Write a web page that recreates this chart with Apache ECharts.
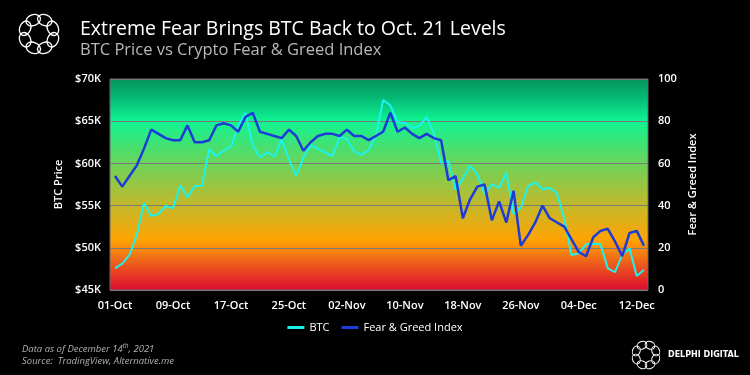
<!DOCTYPE html>
<html>
<head>
<meta charset="utf-8">
<script src="https://cdn.jsdelivr.net/npm/echarts@6/dist/echarts.min.js"></script>
<style>
html,body{margin:0;padding:0;background:#000;}
#chart{width:750px;height:375px;}
</style>
</head>
<body>
<div id="chart"></div>
<script>
var dates = ['01-Oct','02-Oct','03-Oct','04-Oct','05-Oct','06-Oct','07-Oct','08-Oct','09-Oct','10-Oct',
  '11-Oct','12-Oct','13-Oct','14-Oct','15-Oct','16-Oct','17-Oct','18-Oct','19-Oct','20-Oct',
  '21-Oct','22-Oct','23-Oct','24-Oct','25-Oct','26-Oct','27-Oct','28-Oct','29-Oct','30-Oct','31-Oct',
  '01-Nov','02-Nov','03-Nov','04-Nov','05-Nov','06-Nov','07-Nov','08-Nov','09-Nov','10-Nov',
  '11-Nov','12-Nov','13-Nov','14-Nov','15-Nov','16-Nov','17-Nov','18-Nov','19-Nov','20-Nov',
  '21-Nov','22-Nov','23-Nov','24-Nov','25-Nov','26-Nov','27-Nov','28-Nov','29-Nov','30-Nov',
  '01-Dec','02-Dec','03-Dec','04-Dec','05-Dec','06-Dec','07-Dec','08-Dec','09-Dec','10-Dec',
  '11-Dec','12-Dec','13-Dec'];

var btc = [47570,48120,49150,51480,55310,53770,54000,54950,54680,57400,
  55980,57320,57360,61670,60840,61510,61980,64430,66010,62140,
  60720,61310,60840,62850,60480,58510,60720,62140,61740,61270,60880,
  63130,62890,61430,61000,61590,63300,67510,66880,64900,64790,
  64190,64430,65500,63640,60090,60280,56850,58200,59730,58700,
  56400,57520,57120,58900,53970,54750,57320,57760,56930,57120,
  56450,53380,49150,49350,50410,50490,50410,47570,47130,49150,
  49940,46660,47410];

var fearGreed = [54,49,54,59,67,76,74,72,71,71,
  78,70,70,71,78,79,78,75,82,84,
  75,74,73,72,76,73,66,70,73,74,74,
  73,76,73,73,71,73,75,84,75,77,
  74,72,74,72,71,52,54,34,43,49,
  50,33,42,32,47,21,26,32,40,34,
  32,30,24,18,16,25,28,29,23,16,
  27,28,21];

var priceTicks = {min:45000, max:70000, interval:5000};
var indexTicks = {min:0, max:100, interval:20};

var chart = echarts.init(document.getElementById('chart'), null, {renderer:'canvas'});
var FONT = '"Open Sans", sans-serif';

function logo(cx, cy, R, rx, ry, lw) {
  var els = [];
  for (var k = 0; k < 8; k++) {
    var a = k * Math.PI / 4 + Math.PI / 8;
    els.push({type:'ellipse', x:cx + R*Math.cos(a), y:cy + R*Math.sin(a), rotation:-a + Math.PI/2,
      shape:{cx:0, cy:0, rx:rx, ry:ry},
      style:{fill:'none', stroke:'#fff', lineWidth:lw}, silent:true});
  }
  return els;
}

var graphics = [].concat(logo(39, 34, 15, 7.5, 5.5, 1.3), logo(646, 355, 10.5, 5, 3.8, 1));
graphics.push({type:'text', left:668, top:351, style:{text:'DELPHI DIGITAL', fill:'#fff',
  font:'bold 8px "DejaVu Sans", sans-serif'}});
graphics.push({type:'text', left:22, top:343, style:{
  text:'{a|Data as of December 14}{s|th}{a|, 2021}\n{a|Source:  TradingView, Alternative.me}',
  rich:{a:{fill:'#b0b0b0', font:'italic 9.5px "Open Sans", sans-serif', lineHeight:12},
        s:{fill:'#b0b0b0', font:'italic 6.5px "Open Sans", sans-serif', verticalAlign:'top', lineHeight:12}}
}});

var option = {
  backgroundColor:'#000',
  animation:false,
  title:[
    {text:'Extreme Fear Brings BTC Back to Oct. 21 Levels', left:75, top:14,
     textStyle:{color:'#fff', fontSize:19.5, fontWeight:'normal', fontFamily:FONT}},
    {text:'BTC Price vs Crypto Fear & Greed Index', left:75, top:37,
     textStyle:{color:'#b8b8b8', fontSize:16.5, fontWeight:'normal', fontFamily:FONT}}
  ],
  legend:{
    data:['BTC','Fear & Greed Index'], top:317, left:'center',
    icon:'rect', itemWidth:17, itemHeight:3, itemGap:12,
    textStyle:{color:'#fff', fontSize:11, fontFamily:FONT}
  },
  grid:[
    {left:110, top:79, width:538, height:211, show:true, borderColor:'#6b6b6b', borderWidth:1,
     backgroundColor:{type:'linear', x:0, y:0, x2:0, y2:1, colorStops:[
       {offset:0, color:'#06905A'},
       {offset:0.1, color:'#05BE78'},
       {offset:0.2, color:'#10F592'},
       {offset:0.3, color:'#3CE476'},
       {offset:0.4, color:'#6BD45A'},
       {offset:0.6, color:'#C4B82A'},
       {offset:0.76, color:'#FEA402'},
       {offset:0.82, color:'#F58012'},
       {offset:0.9, color:'#EA4A20'},
       {offset:1, color:'#DC0A30'}]}},
    {left:115, top:79, width:529, height:211}
  ],
  xAxis:[
    {type:'value', gridIndex:0, show:false, min:0, max:1},
    {type:'category', gridIndex:1, data:dates, boundaryGap:false,
     axisLine:{show:false}, axisTick:{show:false},
     axisLabel:{interval:7, color:'#fff', fontSize:11, fontFamily:FONT, fontWeight:600, margin:10}}
  ],
  yAxis:[
    {type:'value', gridIndex:0, position:'left', min:priceTicks.min, max:priceTicks.max, interval:priceTicks.interval,
     name:'BTC Price', nameLocation:'middle', nameGap:40,
     nameTextStyle:{color:'#fff', fontSize:11, fontFamily:FONT, fontWeight:600},
     axisLine:{show:false}, axisTick:{show:false},
     axisLabel:{color:'#fff', fontSize:11, fontFamily:FONT, fontWeight:600, margin:9,
       formatter:function(v){return '$' + (v/1000) + 'K';}},
     splitLine:{show:true, lineStyle:{color:'#7a7a7a', width:1}}},
    {type:'value', gridIndex:0, position:'right', min:indexTicks.min, max:indexTicks.max, interval:indexTicks.interval,
     name:'Fear & Greed Index', nameLocation:'middle', nameGap:37,
     nameTextStyle:{color:'#fff', fontSize:11, fontFamily:FONT, fontWeight:600},
     axisLine:{show:false}, axisTick:{show:false},
     axisLabel:{color:'#fff', fontSize:11, fontFamily:FONT, fontWeight:600, margin:10},
     splitLine:{show:false}},
    {type:'value', gridIndex:1, show:false, min:priceTicks.min, max:priceTicks.max, splitLine:{show:false}},
    {type:'value', gridIndex:1, show:false, min:indexTicks.min, max:indexTicks.max, splitLine:{show:false}}
  ],
  series:[
    {name:'BTC', type:'line', xAxisIndex:1, yAxisIndex:2, data:btc, symbol:'none',
     itemStyle:{color:'#1DF3EC'}, lineStyle:{color:'#1DF3EC', width:2}},
    {name:'Fear & Greed Index', type:'line', xAxisIndex:1, yAxisIndex:3, data:fearGreed, symbol:'none',
     itemStyle:{color:'#1C3BD8'}, lineStyle:{color:'#1C3BD8', width:2.5}}
  ],
  graphic:graphics
};
chart.setOption(option);
</script>
</body>
</html>
